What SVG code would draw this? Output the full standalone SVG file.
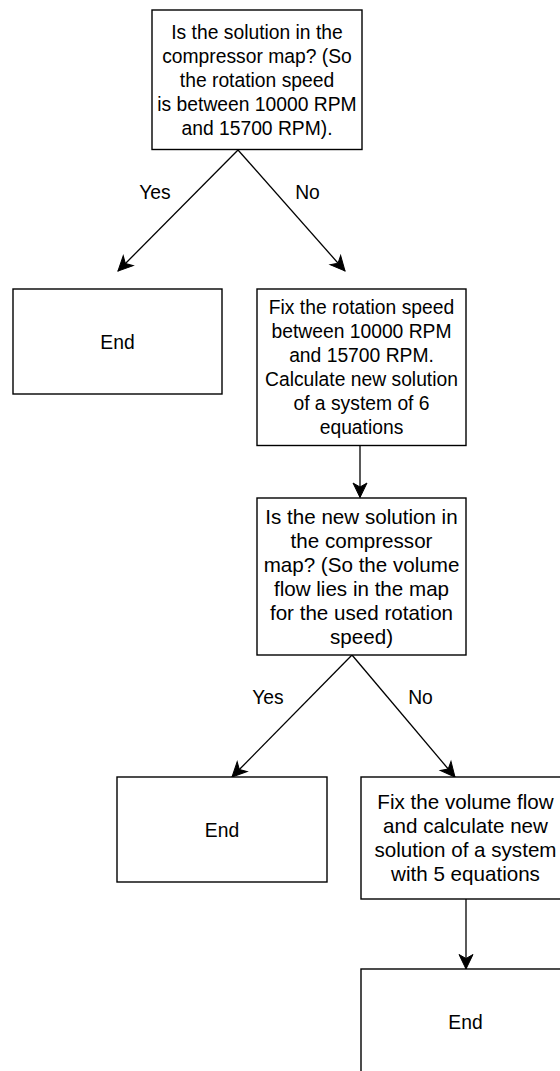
<svg xmlns="http://www.w3.org/2000/svg" width="560" height="1071" viewBox="0 0 560 1071">
<style>
.box{fill:#ffffff;stroke:#000000;stroke-width:1.4}
.t{font-family:"Liberation Sans",Arial,Helvetica,sans-serif;fill:#000000;text-anchor:middle}
.s1{font-size:19.3px}
.s2{font-size:20.6px}
.lab{font-size:19.3px}
.edge{fill:none;stroke:#000000;stroke-width:1.3}
</style>
<defs>
<marker id="arr" markerUnits="userSpaceOnUse" viewBox="-16 -9 18 18" markerWidth="18" markerHeight="18" refX="0" refY="0" orient="auto">
<path d="M0,0 L-14.5,-7 L-10.5,0 L-14.5,7 Z" fill="#000000" stroke="#000000" stroke-width="1"/>
</marker>
</defs>
<rect width="560" height="1071" fill="#ffffff"/>
<g id="connectors">
<line class="edge" x1="238" y1="150" x2="118" y2="271" marker-end="url(#arr)"/>
<line class="edge" x1="238" y1="150" x2="345" y2="271" marker-end="url(#arr)"/>
<line class="edge" x1="360" y1="445.5" x2="360" y2="497.5" marker-end="url(#arr)"/>
<line class="edge" x1="352" y1="655" x2="232" y2="777" marker-end="url(#arr)"/>
<line class="edge" x1="352" y1="655" x2="455" y2="777" marker-end="url(#arr)"/>
<line class="edge" x1="466" y1="899" x2="466" y2="969" marker-end="url(#arr)"/>
<text class="t lab" x="155" y="199">Yes</text>
<text class="t lab" x="307.5" y="199">No</text>
<text class="t lab" x="268" y="704">Yes</text>
<text class="t lab" x="420.5" y="704">No</text>
</g>
<g id="q1">
<rect class="box" x="152" y="10" width="210" height="139.5"/>
<text class="t s1" x="257"><tspan x="257" y="38.5">Is the solution in the</tspan><tspan x="257" y="62.5">compressor map? (So</tspan><tspan x="257" y="86.5">the rotation speed</tspan><tspan x="257" y="110.5">is between 10000 RPM</tspan><tspan x="257" y="134.5">and 15700 RPM).</tspan></text>
</g>
<g id="end1">
<rect class="box" x="13" y="289" width="209" height="105"/>
<text class="t s1" x="117.5" y="348.5">End</text>
</g>
<g id="fix1">
<rect class="box" x="257" y="289" width="209" height="156.5"/>
<text class="t s1"><tspan x="361.5" y="314">Fix the rotation speed</tspan><tspan x="361.5" y="338">between 10000 RPM</tspan><tspan x="361.5" y="362">and 15700 RPM.</tspan><tspan x="361.5" y="386">Calculate new solution</tspan><tspan x="361.5" y="410">of a system of 6</tspan><tspan x="361.5" y="434">equations</tspan></text>
</g>
<g id="q2">
<rect class="box" x="257" y="498" width="209" height="157"/>
<text class="t s2"><tspan x="361.5" y="524">Is the new solution in</tspan><tspan x="361.5" y="548">the compressor</tspan><tspan x="361.5" y="572">map? (So the volume</tspan><tspan x="361.5" y="596">flow lies in the map</tspan><tspan x="361.5" y="620">for the used rotation</tspan><tspan x="361.5" y="644">speed)</tspan></text>
</g>
<g id="end2">
<rect class="box" x="117" y="777" width="210" height="105"/>
<text class="t s1" x="222" y="836.5">End</text>
</g>
<g id="fix2">
<rect class="box" x="361" y="777" width="209" height="122"/>
<text class="t s2"><tspan x="465.5" y="809">Fix the volume flow</tspan><tspan x="465.5" y="833">and calculate new</tspan><tspan x="465.5" y="857">solution of a system</tspan><tspan x="465.5" y="881">with 5 equations</tspan></text>
</g>
<g id="end3">
<rect class="box" x="361" y="969" width="209" height="105"/>
<text class="t s1" x="465.5" y="1028.5">End</text>
</g>
</svg>
